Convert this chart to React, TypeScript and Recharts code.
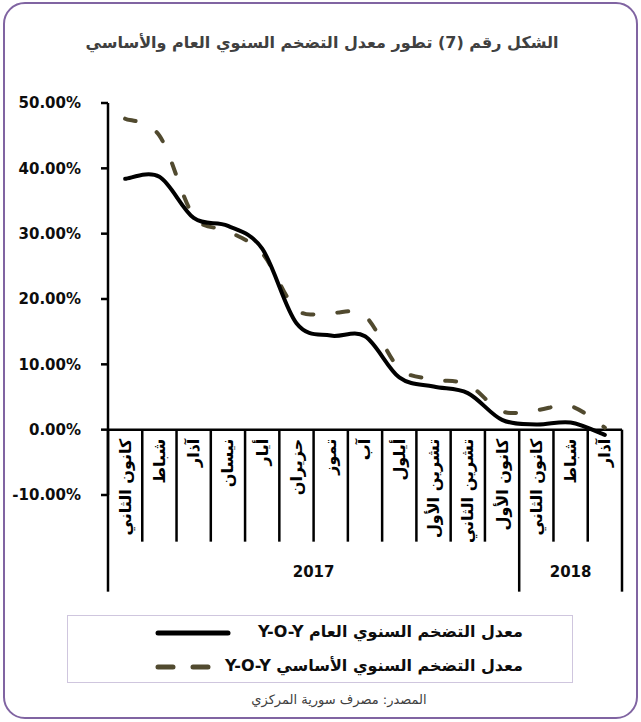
import React from 'react';
import { LineChart, Line, XAxis, YAxis, ReferenceLine } from 'recharts';

// ---------- data ----------
const months = [
  'كانون الثاني', 'شباط', 'آذار', 'نيسان', 'أيار', 'حزيران', 'تموز', 'آب',
  'أيلول', 'تشرين الأول', 'تشرين الثاني', 'كانون الأول',
  'كانون الثاني', 'شباط', 'آذار',
];
const yearGroups = [
  { label: '2017', count: 12 },
  { label: '2018', count: 3 },
];
const generalYoY = [38.4, 38.7, 32.4, 31.2, 27.7, 16.3, 14.4, 14.3, 8.0, 6.6, 5.6, 1.5, 0.8, 1.1, -0.8];
const coreYoY = [47.6, 45.0, 32.7, 30.4, 27.0, 18.4, 17.9, 17.4, 9.4, 7.7, 6.9, 2.8, 3.0, 3.6, 0.3];
const yTicks = [-10, 0, 10, 20, 30, 40, 50];
const seriesNames = ['معدل التضخم السنوي العام Y-O-Y', 'معدل التضخم السنوي الأساسي Y-O-Y'];
const titleText = 'الشكل رقم (7) تطور معدل التضخم السنوي العام والأساسي';
const sourceText = 'المصدر: مصرف سورية المركزي';

const chartData = months.map((m, i) => ({ key: `m${i}`, month: m, general: generalYoY[i], core: coreYoY[i] }));

// ---------- layout ----------
const W = 641;
const H = 722;
const PLOT_LEFT = 108;
const PLOT_RIGHT = 622;
const PLOT_TOP = 103;
const PLOT_BOTTOM = 495;
const Y_MIN = -10;
const Y_MAX = 50;
const Y_AXIS_W = 60;
const X_AXIS_H = 30;
const ZERO_Y = PLOT_TOP + ((Y_MAX - 0) / (Y_MAX - Y_MIN)) * (PLOT_BOTTOM - PLOT_TOP);
const BAND = (PLOT_RIGHT - PLOT_LEFT) / months.length;
const SHORT_DIV = 112;
const LONG_DIV = 162;

const FONT = '"DejaVu Sans", sans-serif';
const SOLID = '#000000';
const DASHED = '#514A2F';

// Excel-like smoothing (Catmull-Rom through every point)
const excelSmooth = (context: any) => {
  let pts: number[][] = [];
  return {
    areaStart() {},
    areaEnd() {},
    lineStart() {
      pts = [];
    },
    lineEnd() {
      const n = pts.length;
      if (!n) return;
      context.moveTo(pts[0][0], pts[0][1]);
      if (n === 1) {
        context.lineTo(pts[0][0], pts[0][1]);
        return;
      }
      for (let i = 0; i < n - 1; i++) {
        const p0 = pts[i > 0 ? i - 1 : i];
        const p1 = pts[i];
        const p2 = pts[i + 1];
        const p3 = pts[i + 2 < n ? i + 2 : i + 1];
        context.bezierCurveTo(
          p1[0] + (p2[0] - p0[0]) / 6,
          p1[1] + (p2[1] - p0[1]) / 6,
          p2[0] - (p3[0] - p1[0]) / 6,
          p2[1] - (p3[1] - p1[1]) / 6,
          p2[0],
          p2[1]
        );
      }
    },
    point(x: number, y: number) {
      pts.push([+x, +y]);
    },
  };
};

// group start indices
const groupStarts: Record<number, { label: string; count: number }> = {};
{
  let acc = 0;
  yearGroups.forEach((g) => {
    groupStarts[acc] = g;
    acc += g.count;
  });
}

const CategoryTick = (props: any) => {
  const { x, index } = props;
  const label = months[index];
  const left = x - BAND / 2;
  const isLast = index === months.length - 1;
  const group = groupStarts[index];
  const ty = ZERO_Y + 9;
  return (
    <g>
      <line
        x1={left}
        x2={left}
        y1={ZERO_Y}
        y2={ZERO_Y + (group ? LONG_DIV : SHORT_DIV)}
        stroke="#000"
        strokeWidth={2.5}
      />
      {isLast && (
        <line x1={x + BAND / 2} x2={x + BAND / 2} y1={ZERO_Y} y2={ZERO_Y + LONG_DIV} stroke="#000" strokeWidth={2.5} />
      )}
      <text
        x={x}
        y={ty}
        transform={`rotate(-90, ${x}, ${ty})`}
        textAnchor="end"
        dominantBaseline="central"
        fontFamily={FONT}
        fontWeight="bold"
        fontSize={16}
        fill="#000"
      >
        {label}
      </text>
      {group && (
        <text
          x={left + (group.count * BAND) / 2}
          y={ZERO_Y + 142}
          textAnchor="middle"
          dominantBaseline="central"
          fontFamily={FONT}
          fontWeight="bold"
          fontSize={15}
          fill="#0d0d0d"
        >
          {group.label}
        </text>
      )}
    </g>
  );
};

export default function App() {
  return (
    <div style={{ position: 'absolute', left: 0, top: 0, width: W, height: H, background: '#fff', overflow: 'hidden' }}>
      <div
        style={{
          position: 'absolute',
          left: 3,
          top: 2,
          width: 635,
          height: 717,
          border: '2px solid #8064A2',
          borderRadius: 22,
          boxSizing: 'border-box',
        }}
      />
      <div
        dir="rtl"
        style={{
          position: 'absolute',
          left: 0,
          width: 644,
          top: 31,
          textAlign: 'center',
          fontFamily: FONT,
          fontWeight: 'bold',
          fontSize: 16,
          color: '#404040',
          lineHeight: '24px',
          whiteSpace: 'nowrap',
        }}
      >
        {titleText}
      </div>
      <div style={{ position: 'absolute', left: 0, top: 0 }}>
        <LineChart
          width={W}
          height={H}
          data={chartData}
          margin={{
            top: PLOT_TOP,
            right: W - PLOT_RIGHT,
            left: PLOT_LEFT - Y_AXIS_W,
            bottom: H - PLOT_BOTTOM - X_AXIS_H,
          }}
        >
          <XAxis
            dataKey="key"
            height={X_AXIS_H}
            interval={0}
            padding={{ left: BAND / 2, right: BAND / 2 }}
            axisLine={false}
            tickLine={false}
            tick={CategoryTick}
          />
          <YAxis
            width={Y_AXIS_W}
            domain={[Y_MIN, Y_MAX]}
            ticks={yTicks}
            interval={0}
            allowDataOverflow
            axisLine={{ stroke: '#000', strokeWidth: 2.5 }}
            tickLine={{ stroke: '#000', strokeWidth: 2.5 }}
            tickSize={7}
            tickMargin={20}
            tickFormatter={(v: number) => `${v.toFixed(2)}%`}
            tick={{ fill: '#0d0d0d', fontFamily: FONT, fontWeight: 'bold', fontSize: 15 }}
          />
          <ReferenceLine y={0} stroke="#000" strokeWidth={2.5} />
          <Line
            dataKey="core"
            name={seriesNames[1]}
            type={excelSmooth as any}
            stroke={DASHED}
            strokeWidth={4}
            strokeDasharray="11 24"
            strokeLinecap="round"
            dot={false}
            activeDot={false}
            isAnimationActive={false}
          />
          <Line
            dataKey="general"
            name={seriesNames[0]}
            type={excelSmooth as any}
            stroke={SOLID}
            strokeWidth={4}
            strokeLinecap="round"
            dot={false}
            activeDot={false}
            isAnimationActive={false}
          />
        </LineChart>
      </div>
      {/* legend */}
      <div
        style={{
          position: 'absolute',
          left: 67,
          top: 615,
          width: 506,
          height: 68,
          border: '1.5px solid #CFC6DE',
          boxSizing: 'border-box',
        }}
      >
        {[
          { name: seriesNames[0], color: SOLID, dash: undefined as string | undefined, len: 70 },
          { name: seriesNames[1], color: DASHED, dash: '15 20', len: 53 },
        ].map((s, i) => (
          <React.Fragment key={i}>
            <svg
              width={76}
              height={10}
              style={{ position: 'absolute', left: 87, top: 12 + i * 34 }}
            >
              <line
                x1={3}
                x2={3 + s.len}
                y1={5}
                y2={5}
                stroke={s.color}
                strokeWidth={5}
                strokeLinecap="round"
                strokeDasharray={s.dash}
              />
            </svg>
            <div
              dir="rtl"
              style={{
                position: 'absolute',
                right: 49,
                top: 4 + i * 34,
                fontFamily: FONT,
                fontWeight: 'bold',
                fontSize: 16,
                lineHeight: '24px',
                color: '#0d0d0d',
                whiteSpace: 'nowrap',
              }}
            >
              {s.name}
            </div>
          </React.Fragment>
        ))}
      </div>
      <div
        dir="rtl"
        style={{
          position: 'absolute',
          left: 240,
          width: 198,
          top: 689,
          textAlign: 'center',
          fontFamily: FONT,
          fontSize: 13,
          color: '#404040',
          lineHeight: '22px',
          whiteSpace: 'nowrap',
        }}
      >
        {sourceText}
      </div>
    </div>
  );
}
